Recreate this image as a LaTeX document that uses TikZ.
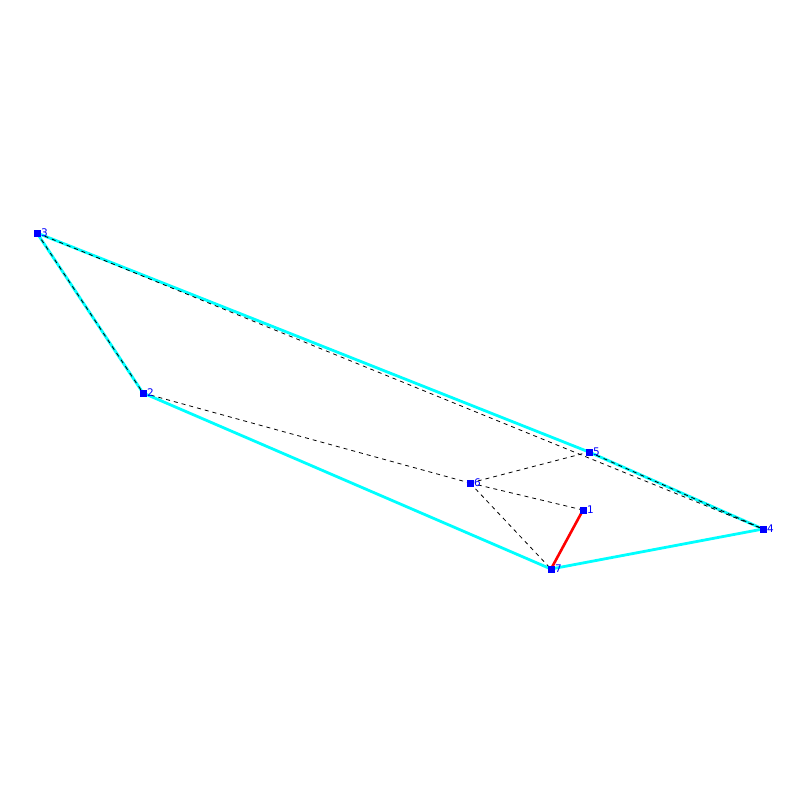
\documentclass[tikz,border=0pt]{standalone}
\usepackage{fontspec}
\setmainfont{DejaVu Sans}
\definecolor{hullcyan}{RGB}{0,255,255}
\definecolor{ptblue}{RGB}{0,0,255}
\definecolor{edgered}{RGB}{255,0,0}
\begin{document}
\begin{tikzpicture}[x=1pt,y=-1pt,
  pt/.style={draw=none,fill=ptblue,minimum size=7pt,inner sep=0pt,outer sep=0pt},
  lbl/.style={text=ptblue,font=\fontsize{10.5}{10.5}\selectfont,inner sep=0pt,anchor=west},
  hull/.style={hullcyan,line width=2.8pt},
  redge/.style={edgered,line width=2.6pt},
  dedge/.style={black,line width=0.8pt,dash pattern=on 4pt off 4pt}]
\useasboundingbox (0,0) rectangle (800,800);
\coordinate (p1) at (583,510);
\coordinate (p2) at (143,393);
\coordinate (p3) at (37,233);
\coordinate (p4) at (763,529);
\coordinate (p5) at (589,452);
\coordinate (p6) at (470,483);
\coordinate (p7) at (551,569);
\draw[hull] (p3) -- (p2);
\draw[hull] (p3) -- (p5);
\draw[hull] (p5) -- (p4);
\draw[hull] (p4) -- (p7);
\draw[hull] (p7) -- (p2);
\draw[redge] (p7) -- (p1);
\draw[dedge] (p3) -- (p2);
\draw[dedge] (p3) -- (p4);
\draw[dedge] (p5) -- (p4);
\draw[dedge] (p2) -- (p6);
\draw[dedge] (p6) -- (p5);
\draw[dedge] (p6) -- (p1);
\draw[dedge] (p6) -- (p7);
\foreach \i in {1,...,7} {
  \node[pt] (n\i) at (p\i) {};
  \node[lbl] (l\i) at ([xshift=4pt]p\i) {\i};
}
\end{tikzpicture}
\end{document}
